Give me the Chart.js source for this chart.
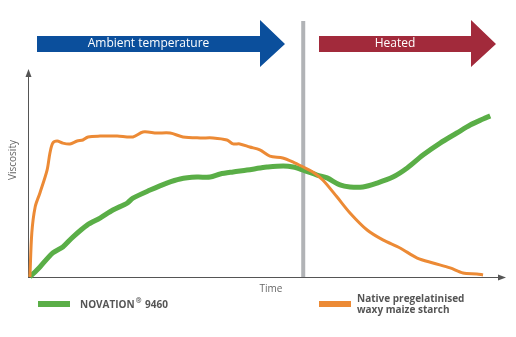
<!DOCTYPE html>
<html>
<head>
<meta charset="utf-8">
<script src="https://cdn.jsdelivr.net/npm/chart.js@4/dist/chart.umd.min.js"></script>
<style>
  body { margin: 0; background: #fff; }
</style>
</head>
<body>
<canvas id="myChart" width="516" height="337"></canvas>
<script>
// series data (time and viscosity in arbitrary units 0-100)
const novationTime = [0.4, 2.5, 5.2, 7.3, 9.4, 12.4, 15.1, 17.8, 20.8, 22.0, 25.6, 29.1, 31.9, 35.4, 38.2, 40.3, 43.0, 45.9, 48.6, 50.1, 53.5, 55.6, 57.7, 60.6, 62.7, 65.4, 67.5, 70.2, 73.2, 76.5, 79.5, 82.8, 86.4, 89.9, 92.7, 95.4, 96.9];
const novationViscosity = [0, 4.9, 11.7, 14.6, 19.4, 25.2, 28.6, 32.5, 35.9, 38.3, 42.2, 45.6, 47.6, 48.5, 48.5, 50.0, 51.0, 51.9, 52.9, 53.4, 53.9, 53.4, 51.9, 49.5, 48.1, 44.7, 43.7, 43.7, 45.6, 48.5, 52.9, 59.2, 65.0, 69.9, 73.8, 76.7, 78.2];

const waxyTime = [0.4, 0.8, 1.5, 2.5, 4.0, 4.6, 5.2, 6.1, 7.3, 8.8, 10.3, 11.5, 12.6, 15.1, 18.7, 22.0, 24.1, 27.0, 29.8, 32.5, 36.1, 38.8, 41.7, 43.0, 44.4, 46.5, 48.6, 50.7, 53.4, 55.6, 57.7, 59.7, 61.8, 64.8, 67.5, 71.1, 74.4, 78.0, 81.6, 84.9, 88.5, 91.2, 94.1, 95.4];
const waxyViscosity = [0, 21.4, 34.0, 40.8, 51.9, 60.2, 65.0, 66.0, 65.0, 64.6, 66.0, 66.5, 68.0, 68.4, 68.4, 68.0, 70.4, 69.9, 69.9, 68.0, 67.5, 67.5, 66.5, 64.6, 64.6, 63.1, 61.7, 58.7, 57.8, 55.8, 53.4, 51.0, 47.1, 38.8, 31.1, 22.8, 18.0, 14.1, 9.2, 6.8, 4.4, 1.9, 1.5, 1.0];

const seriesLabels = ['NOVATION\u00ae 9460', 'Native pregelatinised waxy maize starch'];
const phaseLabels = ['Ambient temperature', 'Heated'];
const switchTime = 57.7; // where heating starts

const green = '#5aae47';
const orange = '#ec8a35';

function toPoints(xs, ys) {
    return xs.map((x, i) => ({ x: x, y: ys[i] }));
}

const ctx = document.getElementById('myChart').getContext('2d');

function arrow(c, x1, x2, color, text) {
    c.fillStyle = color;
    c.beginPath();
    c.moveTo(x1, 36);
    c.lineTo(x2 - 25, 36);
    c.lineTo(x2 - 25, 20);
    c.lineTo(x2, 44);
    c.lineTo(x2 - 25, 67);
    c.lineTo(x2 - 25, 52);
    c.lineTo(x1, 52);
    c.closePath();
    c.fill();
    c.fillStyle = '#fff';
    c.font = '12px "Open Sans", sans-serif';
    c.textAlign = 'center';
    c.textBaseline = 'middle';
    c.fillText(text, (x1 + x2 - 25) / 2, 44);
}

// gray divider, phase arrows, axes and legend
const decor = {
    id: 'decor',
    beforeDatasetsDraw(chart) {
        const c = chart.ctx;
        const a = chart.chartArea;
        const xs = chart.scales.x;
        const sx = xs.getPixelForValue(switchTime);
        c.save();
        c.fillStyle = '#b1b3b6';
        c.fillRect(sx - 2, 21, 4, a.bottom - 21);

        arrow(c, 37, 285, '#0b4f9c', phaseLabels[0]);
        arrow(c, 319, 496, '#a22a3b', phaseLabels[1]);

        // axes
        c.strokeStyle = '#555';
        c.fillStyle = '#555';
        c.lineWidth = 1;
        c.beginPath();
        c.moveTo(a.left + 0.5, a.bottom);
        c.lineTo(a.left + 0.5, a.top + 4);
        c.moveTo(a.left, a.bottom + 0.5);
        c.lineTo(a.right - 4, a.bottom + 0.5);
        c.stroke();
        c.beginPath();
        c.moveTo(a.left + 0.5, a.top - 2);
        c.lineTo(a.left - 2.5, a.top + 6);
        c.lineTo(a.left + 3.5, a.top + 6);
        c.closePath();
        c.fill();
        c.beginPath();
        c.moveTo(a.right + 1, a.bottom + 0.5);
        c.lineTo(a.right - 7, a.bottom - 2.5);
        c.lineTo(a.right - 7, a.bottom + 3.5);
        c.closePath();
        c.fill();

        // axis titles
        c.fillStyle = '#666';
        c.font = '10px "Open Sans", sans-serif';
        c.textAlign = 'center';
        c.textBaseline = 'middle';
        c.fillText('Time', 271, 289);
        c.save();
        c.translate(13, 160);
        c.rotate(-Math.PI / 2);
        c.fillText('Viscosity', 0, 0);
        c.restore();

        // legend
        c.fillStyle = green;
        c.fillRect(38, 301, 32, 6);
        c.fillStyle = orange;
        c.fillRect(319, 301, 32, 6);
        c.fillStyle = '#555';
        c.font = 'bold 10px "Open Sans", sans-serif';
        c.textAlign = 'left';
        // NOVATION with a raised registered mark
        const parts = seriesLabels[0].split('\u00ae');
        let tx = 80;
        c.fillText(parts[0], tx, 305);
        tx += c.measureText(parts[0]).width + 1;
        c.font = 'bold 7px "Open Sans", sans-serif';
        c.fillText('\u00ae', tx, 301);
        tx += c.measureText('\u00ae').width + 1;
        c.font = 'bold 10px "Open Sans", sans-serif';
        c.fillText(parts[1], tx, 305);
        c.fillText('Native pregelatinised', 357, 299);
        c.fillText('waxy maize starch', 357, 310);
        c.restore();
    }
};

const chart = new Chart(ctx, {
    type: 'line',
    data: {
        datasets: [{
            label: seriesLabels[1],
            data: toPoints(waxyTime, waxyViscosity),
            borderColor: orange,
            borderWidth: 3,
            tension: 0.3,
            clip: false
        }, {
            label: seriesLabels[0],
            data: toPoints(novationTime, novationViscosity),
            borderColor: green,
            borderWidth: 5,
            tension: 0.3,
            clip: false
        }]
    },
    options: {
        responsive: false,
        animation: false,
        layout: { padding: { left: 28, right: 11, top: 71, bottom: 60 } },
        elements: { point: { radius: 0 } },
        plugins: { legend: { display: false }, tooltip: { enabled: false } },
        scales: {
            x: { type: 'linear', min: 0, max: 100, display: false },
            y: { min: 0, max: 100, display: false }
        }
    },
    plugins: [decor]
});
</script>
</body>
</html>
